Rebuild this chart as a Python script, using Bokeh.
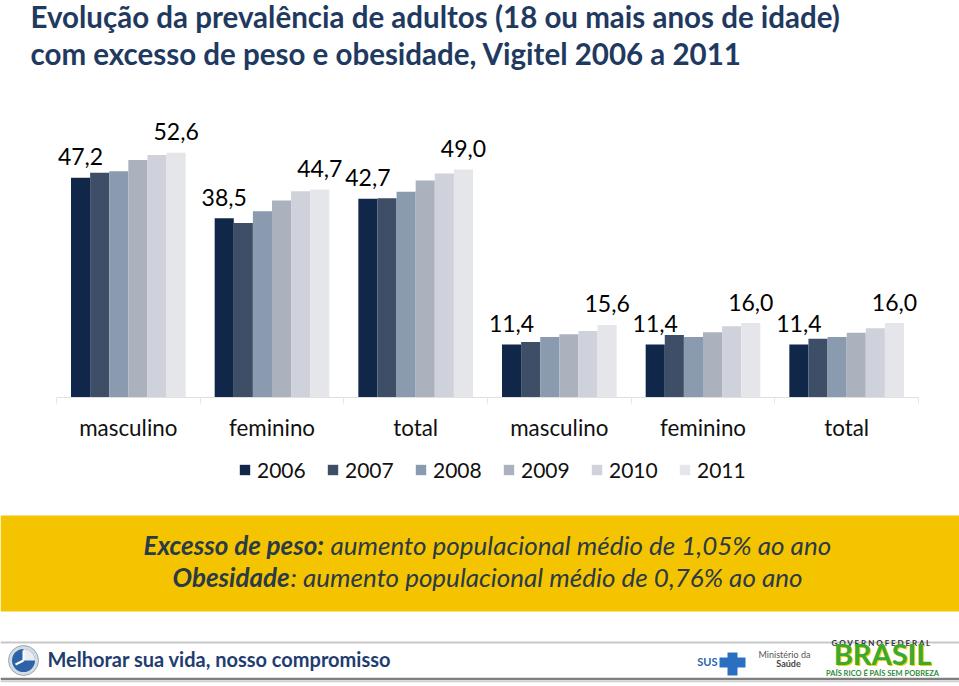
from bokeh.plotting import figure
from bokeh.models import (ColumnDataSource, Range1d, FixedTicker, Legend, LegendItem, Label)
from bokeh.transform import dodge
from bokeh.core.properties import value
from bokeh.embed import file_html
from bokeh.resources import INLINE

# ---------------- data ----------------
categories = ["masculino", "feminino", "total", "masculino", "feminino", "total"]
years = ["2006", "2007", "2008", "2009", "2010", "2011"]
v2006 = [47.2, 38.5, 42.7, 11.4, 11.4, 11.4]
v2007 = [48.3, 37.5, 42.8, 11.9, 13.4, 12.6]
v2008 = [48.6, 40.0, 44.2, 13.0, 13.0, 13.0]
v2009 = [51.0, 42.3, 46.6, 13.6, 14.0, 13.9]
v2010 = [52.1, 44.3, 48.1, 14.3, 15.3, 14.9]
v2011 = [52.6, 44.7, 49.0, 15.6, 16.0, 16.0]

title_lines = ["Evolução da prevalência de adultos (18 ou mais anos de idade)",
               "com excesso de peso e obesidade, Vigitel 2006 a 2011"]
note1_bold = "Excesso de peso:"
note1_rest = "aumento populacional médio de 1,05% ao ano"
note2_bold = "Obesidade"
note2_rest = ": aumento populacional médio de 0,76% ao ano"
footer_text = "Melhorar sua vida, nosso compromisso"

# ---------------- layout / styles ----------------
colors = ["#11274A", "#3D4E66", "#8A9BB0", "#ACB2BD", "#CFD2DA", "#E5E6E9"]
FONT = "Lato"
W, H = 959, 686
PLOT_L, PLOT_R = 56, 918      # pixel extent of the category area
BASE_Y = 397                  # pixel row of the value 0
YPX = 4.655                   # pixels per percentage point
n = len(categories)
XPX = (PLOT_R - PLOT_L) / n


def fmt(v):
    return f"{v:.1f}".replace(".", ",")


series = [v2006, v2007, v2008, v2009, v2010, v2011]
data = dict(x=list(range(n)))
for yr, vals in zip(years, series):
    data["v" + yr] = vals
data["l2006"] = [fmt(v) for v in v2006]
data["l2011"] = [fmt(v) for v in v2011]
src = ColumnDataSource(data)

x_range = Range1d(-0.5 - PLOT_L / XPX, n - 0.5 + (W - PLOT_R) / XPX)
y_range = Range1d(-(H - BASE_Y) / YPX, BASE_Y / YPX)

p = figure(width=W, height=H, x_range=x_range, y_range=y_range,
           output_backend="svg", toolbar_location=None, min_border=0,
           y_axis_location=None)
p.xgrid.visible = False
p.ygrid.visible = False
p.outline_line_color = None
p.background_fill_color = "#FFFFFF"

# page-pixel coordinate system for decorations
p.extra_x_ranges = {"px": Range1d(0, W)}
p.extra_y_ranges = {"py": Range1d(H, 0)}

# ---------------- bars ----------------
group_w = 0.798
bw = group_w / len(years)
renderers = []
for j, (yr, col) in enumerate(zip(years, colors)):
    r = p.vbar(x=dodge("x", (j - 2.5) * bw, range=p.x_range), top="v" + yr, width=bw,
               source=src, fill_color=col, line_color=None)
    renderers.append(r)

for j, key in [(0, "2006"), (5, "2011")]:
    p.text(x=dodge("x", (j - 2.5) * bw, range=p.x_range), y="v" + key, text="l" + key,
           source=src, text_font=value(FONT), text_font_size=value("23px"),
           text_color="#000000", text_align="center", text_baseline="alphabetic", y_offset=-21)

# ---------------- axis ----------------
ax = p.xaxis[0]
ax.fixed_location = 0
ax.bounds = (-0.5, n - 0.5)
ax.ticker = FixedTicker(ticks=list(range(n)), minor_ticks=[i - 0.5 for i in range(n + 1)])
ax.major_label_overrides = {i: c for i, c in enumerate(categories)}
ax.major_tick_line_color = None
ax.major_tick_out = 0
ax.major_tick_in = 0
ax.minor_tick_line_color = "#E6E6E6"
ax.minor_tick_out = 6
ax.minor_tick_in = 0
ax.axis_line_color = "#E0E0E0"
ax.major_label_standoff = 10
ax.major_label_text_font = FONT
ax.major_label_text_font_size = "22.4px"
ax.major_label_text_color = "#111111"

# ---------------- legend ----------------
legend = Legend(items=[LegendItem(label=yr, renderers=[r]) for yr, r in zip(years, renderers)],
                orientation="horizontal", location=(238, H - 482),
                glyph_width=13, glyph_height=13, label_standoff=6, spacing=19, label_width=50,
                label_text_font=FONT, label_text_font_size="21px", label_text_color="#111111",
                border_line_color=None, background_fill_alpha=0, padding=0, margin=0)
p.add_layout(legend, "center")

# ---------------- title ----------------
for i, t in enumerate(title_lines):
    p.add_layout(Label(x=30, y=16 + 37 * i, x_range_name="px", y_range_name="py", text=t,
                       text_font=FONT, text_font_style="bold", text_font_size="29.5px",
                       text_color="#1F3A60", text_baseline="alphabetic"))

# ---------------- note box ----------------
p.quad(left=0, right=W, top=515, bottom=611, x_range_name="px", y_range_name="py",
       fill_color="#F5C400", line_color=None)
TXT = "#2B3A47"
for x, y, t, st in [(143, 560, note1_bold, "bold italic"), (330, 560, note1_rest, "italic"),
                    (172, 592, note2_bold, "bold italic"), (290, 592, note2_rest, "italic")]:
    p.add_layout(Label(x=x, y=y, x_range_name="px", y_range_name="py", text=t, text_font=FONT,
                       text_font_style=st, text_font_size="26px", text_color=TXT))

# ---------------- footer ----------------
p.segment(x0=0, y0=642, x1=W, y1=642, x_range_name="px", y_range_name="py",
          line_color="#C8C8C8", line_width=2)
p.segment(x0=0, y0=678.5, x1=W, y1=678.5, x_range_name="px", y_range_name="py",
          line_color="#7F7F7F", line_width=2.5)
p.segment(x0=0, y0=681, x1=W, y1=681, x_range_name="px", y_range_name="py",
          line_color="#D0D0D0", line_width=1.5)

# round icon
p.circle(x=23, y=660, radius=15, x_range_name="px", y_range_name="py",
         fill_color="#D5DBE2", line_color="#9AA6B3", line_width=1)
p.circle(x=23, y=660, radius=11.5, x_range_name="px", y_range_name="py",
         fill_color="#2B62A8", line_color=None)
p.wedge(x=23, y=660, radius=11.5, start_angle=0.0, end_angle=1.57,
        x_range_name="px", y_range_name="py", fill_color="#E8EDF3", line_color=None)
p.segment(x0=[23, 23], y0=[660, 660], x1=[23, 15], y1=[650, 664],
          x_range_name="px", y_range_name="py", line_color="#FFFFFF", line_width=2)

p.add_layout(Label(x=47, y=670, x_range_name="px", y_range_name="py", text=footer_text,
                   text_font=FONT, text_font_style="bold", text_font_size="20px",
                   text_color="#1F3D70"))

# SUS logo
p.add_layout(Label(x=717, y=667, x_range_name="px", y_range_name="py", text="SUS",
                   text_font=FONT, text_font_style="bold", text_font_size="11px",
                   text_color="#2A64AE", text_align="right"))
p.quad(left=[719, 727], right=[745, 737], top=[657, 652], bottom=[667, 675],
       x_range_name="px", y_range_name="py", fill_color="#2A6FC0", line_color=None)

# Ministério da Saúde
p.add_layout(Label(x=784, y=659, x_range_name="px", y_range_name="py", text="Ministério da",
                   text_font=FONT, text_font_size="9px", text_color="#555555",
                   text_align="center"))
p.add_layout(Label(x=788, y=668, x_range_name="px", y_range_name="py", text="Saúde",
                   text_font=FONT, text_font_style="bold", text_font_size="9px",
                   text_color="#444444", text_align="center"))

# Governo Federal / Brasil
p.add_layout(Label(x=882, y=647, x_range_name="px", y_range_name="py",
                   text="G O V E R N O  F E D E R A L", text_font=FONT, text_font_style="bold",
                   text_font_size="8px", text_color="#333333", text_align="center"))
p.add_layout(Label(x=883.5, y=671.5, x_range_name="px", y_range_name="py", text="BRASIL",
                   text_font=FONT, text_font_style="bold", text_font_size="29px",
                   text_color="#F2D200", text_align="center"))
p.add_layout(Label(x=882, y=670, x_range_name="px", y_range_name="py", text="BRASIL",
                   text_font=FONT, text_font_style="bold", text_font_size="29px",
                   text_color="#3BA935", text_align="center"))
p.add_layout(Label(x=882, y=677, x_range_name="px", y_range_name="py",
                   text="PAÍS RICO É PAÍS SEM POBREZA", text_font=FONT, text_font_style="bold",
                   text_font_size="7.5px", text_color="#2E8B3A", text_align="center"))

open("out.html", "w").write(file_html(p, INLINE))
